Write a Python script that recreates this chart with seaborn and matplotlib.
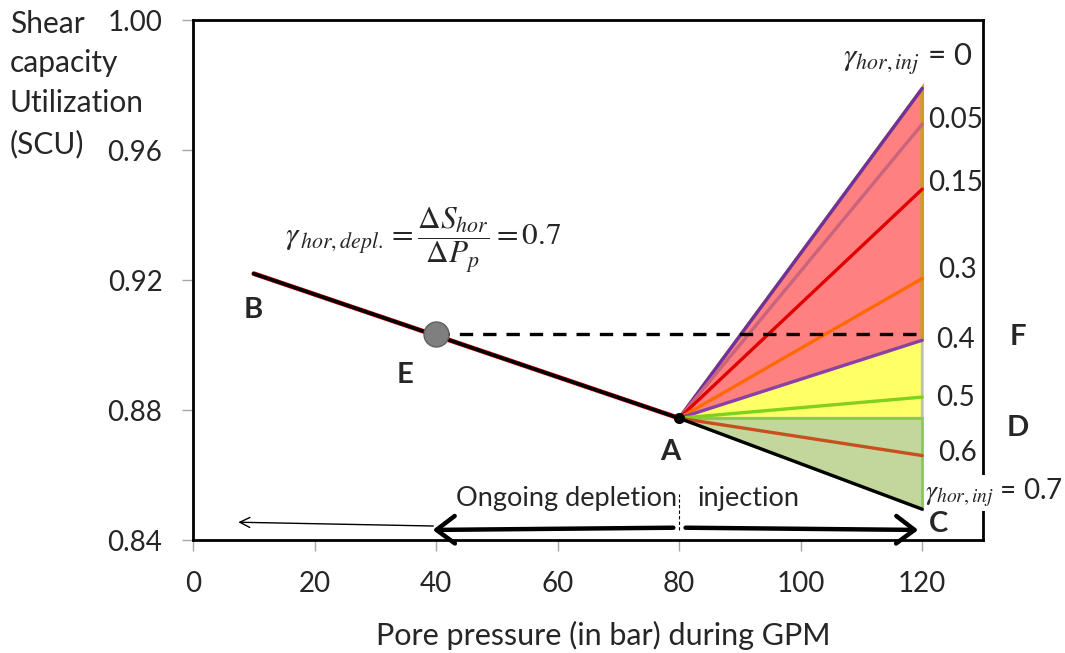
import numpy as np
import pandas as pd
import matplotlib
matplotlib.use("Agg")
import matplotlib.pyplot as plt
import seaborn as sns

# depletion path B -> A
depl_x = [10, 80]
depl_y = [0.922, 0.8775]
point_e = (40, 0.9035)

# injection fan from A to 120 bar, one line per gamma_hor,inj
inj_x = [80, 120]
inj_gamma = ["0", "0.05", "0.15", "0.3", "0.4", "0.5", "0.6", "0.7"]
inj_end = [0.979, 0.968, 0.948, 0.9205, 0.9015, 0.884, 0.866, 0.8495]
inj_colors = ["#7030A0", "#C8647E", "#E00000", "#FF6A00", "#8E3FA6",
              "#80D020", "#C8501E", "#000000"]

x_ticks = [0, 20, 40, 60, 80, 100, 120]
y_ticks = [0.84, 0.88, 0.92, 0.96, 1.00]
y_label_lines = ["Shear", "capacity", "Utilization", "(SCU)"]

sns.set_theme(style="white")
plt.rcParams["font.family"] = ["Lato", "DejaVu Sans"]

fig = plt.figure(figsize=(10.65, 6.53), dpi=100)
ax = fig.add_axes([0.1812, 0.173, 0.7418, 0.796])

a_x, a_y = inj_x[0], depl_y[-1]

# shaded zones
zone_top = inj_end[inj_gamma.index("0")]
zone_mid = inj_end[inj_gamma.index("0.4")]
zone_bot = inj_end[inj_gamma.index("0.7")]
ax.fill([a_x, 120, 120], [a_y, zone_top, zone_mid], color="#FF8080",
        ec="#C8A020", lw=2.6, zorder=1)
ax.fill([a_x, 120, 120], [a_y, zone_mid, a_y], color="#FFFF66",
        ec="#BDBDBD", lw=2, zorder=1)
ax.fill([a_x, 120, 120], [a_y, a_y, zone_bot], color="#C3D69B",
        ec="#8CC850", lw=2, zorder=1)

fan = pd.DataFrame({
    "x": inj_x * len(inj_gamma),
    "y": [v for e in inj_end for v in (a_y, e)],
    "gamma": [g for g in inj_gamma for _ in inj_x],
})
sns.lineplot(data=fan, x="x", y="y", hue="gamma", palette=inj_colors,
             hue_order=inj_gamma, lw=2.4, legend=False, ax=ax, zorder=2)

# depletion line with faint red edge
ax.plot(depl_x, depl_y, color="#E00000", lw=3.4, zorder=3)
ax.plot(depl_x, depl_y, color="black", lw=2.6, zorder=3)
ax.plot([point_e[0], 120], [point_e[1], point_e[1]], color="black", lw=2.4,
        ls=(0, (4, 3)), zorder=3)
ax.plot(*point_e, "o", ms=18, color="#7F7F7F", mec="#606060", mew=1, zorder=4)
ax.plot(a_x, a_y, "o", ms=7, color="black", zorder=4)

ax.set_xlim(0, 130)
ax.set_ylim(0.84, 1.00)
ax.set_xticks(x_ticks)
ax.set_yticks(y_ticks)
ax.set_yticklabels([f"{v:.2f}" for v in y_ticks])
ax.tick_params(axis="both", which="major", direction="out", length=8,
               width=1, color="#A6A6A6", labelsize=20, pad=14,
               bottom=True, left=True)
for s in ax.spines.values():
    s.set_color("black")
    s.set_linewidth(2)
ax.set_xlabel("")
ax.set_ylabel("")

fig.text(0.5665, 0.027, "Pore pressure (in bar) during GPM", fontsize=22,
         ha="center", va="center")
for line, py in zip(y_label_lines, [24, 63, 103, 144]):
    fig.text(0.009, 1 - py / 653, line, fontsize=21.5, ha="left",
             va="center")

# point labels
for lab, (lx, ly) in {"B": (9.9, 0.9108), "E": (34.9, 0.8908),
                      "A": (78.6, 0.8671), "F": (135.8, 0.9025),
                      "D": (135.8, 0.8745), "C": (122.6, 0.8449)}.items():
    ax.text(lx, ly, lab, fontsize=21, fontweight="bold", ha="center",
            va="center", clip_on=False, zorder=6)

# gamma labels at the right
for g, (lx, ly) in {"0.05": (121.0, 0.9692), "0.15": (121.0, 0.9498),
                    "0.3": (122.6, 0.9231), "0.4": (122.3, 0.9015),
                    "0.5": (122.3, 0.8837), "0.6": (122.6, 0.8668)}.items():
    ax.text(lx, ly, g, fontsize=20, ha="left", va="center", clip_on=False)
ax.text(128.3, 0.9877, r"$\gamma_{hor,inj}$ = 0", fontsize=22.5, ha="right",
        va="center", math_fontfamily="stix", clip_on=False)
ax.text(120.5, 0.8545, r"$\gamma_{hor,inj}$ = 0.7", fontsize=20, ha="left",
        va="center", math_fontfamily="stix", clip_on=False, zorder=6,
        bbox=dict(fc="white", ec="none", pad=1))

ax.text(15.2, 0.9323,
        r"$\gamma_{\,hor,depl.} = \dfrac{\Delta S_{hor}}{\Delta P_p} = 0.7$",
        fontsize=22.5, ha="left", va="center", math_fontfamily="stix")

# arrows along the bottom
ax.annotate("", xy=(7, 0.8455), xytext=(40, 0.8443),
            arrowprops=dict(arrowstyle="->", lw=1, color="black",
                            mutation_scale=18))
head = "->,head_length=0.6,head_width=0.45"
ax.annotate("", xy=(39, 0.8431), xytext=(79.5, 0.8438),
            arrowprops=dict(arrowstyle=head, lw=3.2, color="black",
                            mutation_scale=22))
ax.annotate("", xy=(119.8, 0.8431), xytext=(80.6, 0.8438),
            arrowprops=dict(arrowstyle=head, lw=3.2, color="black",
                            mutation_scale=22))
ax.plot([80, 80], [0.8431, 0.8543], color="black", lw=0.8, ls=(0, (3, 2)))
ax.text(79.6, 0.8529, "Ongoing depletion", fontsize=19.5, ha="right",
        va="center")
ax.text(83.1, 0.8529, "injection", fontsize=19.5, ha="left", va="center")

fig.savefig("out.png", dpi=100)
